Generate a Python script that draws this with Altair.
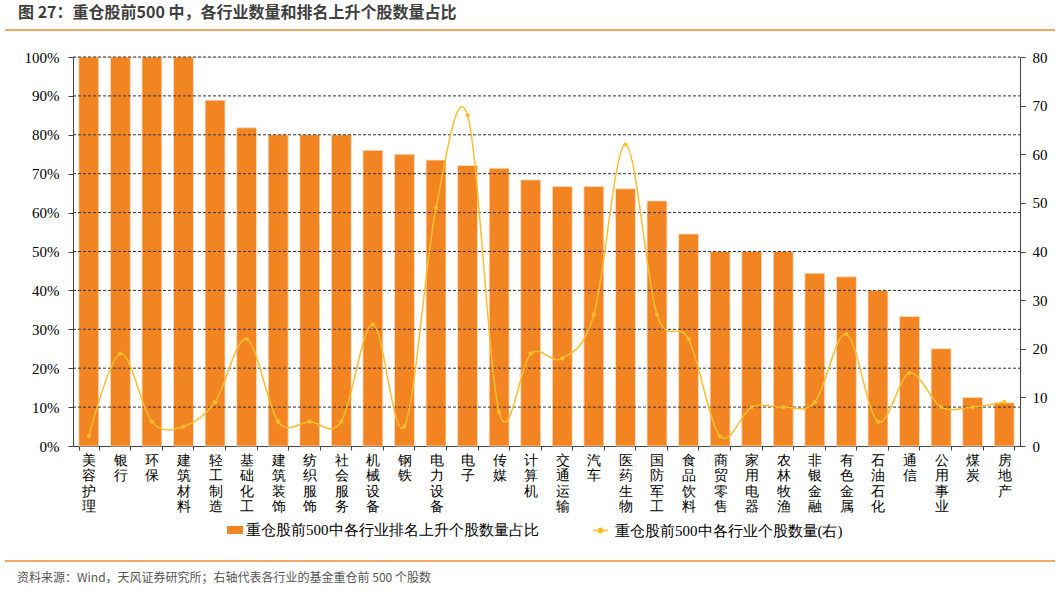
import altair as alt
import pandas as pd

categories = ["美容护理", "银行", "环保", "建筑材料", "轻工制造", "基础化工", "建筑装饰", "纺织服饰",
              "社会服务", "机械设备", "钢铁", "电力设备", "电子", "传媒", "计算机", "交通运输", "汽车",
              "医药生物", "国防军工", "食品饮料", "商贸零售", "家用电器", "农林牧渔", "非银金融",
              "有色金属", "石油石化", "通信", "公用事业", "煤炭", "房地产"]
pct_values = [100, 100, 100, 100, 88.9, 81.8, 80, 80, 80, 76, 75, 73.5, 72.1, 71.4, 68.4, 66.7, 66.7,
              66.1, 63.0, 54.5, 50, 50, 50, 44.4, 43.5, 40, 33.3, 25, 12.5, 11.1]
count_values = [2, 19, 5, 4, 9, 22, 5, 5, 5, 25, 4, 49, 68, 7, 19, 18, 27, 62, 27, 22, 2, 8, 8, 9,
                23, 5, 15, 8, 8, 9]
left_ticks = [0, 0.1, 0.2, 0.3, 0.4, 0.5, 0.6, 0.7, 0.8, 0.9, 1.0]
right_ticks = [0, 10, 20, 30, 40, 50, 60, 70, 80]

bar_label = "重仓股前500中各行业排名上升个股数量占比"
line_label = "重仓股前500中各行业个股数量(右)"
title_text = "图 27：重仓股前500 中，各行业数量和排名上升个股数量占比"
source_text = "资料来源：Wind，天风证券研究所；右轴代表各行业的基金重仓前 500 个股数"

df = pd.DataFrame({
    "cat": categories,
    "pct": [v / 100 for v in pct_values],
    "cnt": count_values,
    "s1": bar_label,
    "s2": line_label,
})
grid_df = pd.DataFrame({"g": left_ticks[1:]})

W, H = 947, 389
BAR = "#F28422"
LINE = "#FDBE2E"
ORANGE = "#F08A30"
SERIF = "Liberation Serif"
SANS = "Noto Sans CJK SC"
AX = "#444444"

x_enc = alt.X(
    "cat:N", sort=categories, title=None,
    scale=alt.Scale(paddingInner=0.37, paddingOuter=0.185),
    axis=alt.Axis(labelAngle=0, labelExpr="split(datum.label, '')", labelBaseline="top",
                  labelAlign="center", labelFontSize=14, labelLineHeight=15.5, labelFont=SERIF,
                  labelColor="#000000", tickBand="extent", tickSize=4, labelPadding=3,
                  domainColor=AX, tickColor=AX, grid=False),
)

left_axis = alt.Axis(values=left_ticks, format=".0%", grid=False, tickSize=5, labelPadding=9,
                     labelFont=SERIF, labelFontSize=15, labelColor="#000000",
                     domainColor=AX, tickColor=AX)

bars = alt.Chart(df).mark_bar(stroke="#FBE0C8", strokeWidth=0.8).encode(
    x=x_enc,
    y=alt.Y("pct:Q", title=None, scale=alt.Scale(domain=[0, 1]), axis=left_axis),
    color=alt.Color("s1:N", scale=alt.Scale(domain=[bar_label], range=[BAR]),
                    legend=alt.Legend(orient="none", legendX=154, legendY=465, title=None,
                                      symbolType="M-1,-0.5H1V0.5H-1Z", symbolSize=256,
                                      labelFont=SERIF, labelFontSize=15, labelColor="#000000",
                                      labelLimit=500, labelOffset=3, symbolStrokeWidth=0)),
)

grid = alt.Chart(grid_df).mark_rule(color="#333333", strokeWidth=1, strokeDash=[3, 2]).encode(
    x=alt.value(0), x2=alt.value(W),
    y=alt.Y("g:Q", scale=alt.Scale(domain=[0, 1]), title=None, axis=None),
)

right_y = alt.Y("cnt:Q", title=None, scale=alt.Scale(domain=[0, 80]),
                axis=alt.Axis(orient="right", values=right_ticks, grid=False, tickSize=5,
                              labelPadding=7, labelFont=SERIF, labelFontSize=15,
                              labelColor="#000000", domainColor=AX, tickColor=AX))

line = alt.Chart(df).mark_line(interpolate="cardinal", strokeWidth=1.5).encode(
    x=alt.X("cat:N", sort=categories),
    y=right_y,
    stroke=alt.Stroke("s2:N", scale=alt.Scale(domain=[line_label], range=[LINE]),
                      legend=alt.Legend(orient="none", legendX=519, legendY=465, title=None,
                                        symbolType="M-1,0H1M-0.3,0A0.3,0.3 0 1,0 0.3,0A0.3,0.3 0 1,0 -0.3,0",
                                        symbolSize=225, symbolFillColor=LINE, symbolStrokeWidth=1.5,
                                        labelFont=SERIF, labelFontSize=15, labelColor="#000000",
                                        labelLimit=500, labelOffset=6)),
)

points = alt.Chart(df).mark_point(filled=True, size=18, color=LINE, opacity=1).encode(
    x=alt.X("cat:N", sort=categories),
    y=alt.Y("cnt:Q"),
)

deco = pd.DataFrame({"t": [title_text]})
title_mark = alt.Chart(deco).mark_text(font=SANS, fontSize=16, fontWeight="bold", color="#3F3F3F",
                                       align="left", baseline="middle").encode(
    text="t:N", x=alt.value(-55), y=alt.value(-44))
src_mark = alt.Chart(pd.DataFrame({"t": [source_text]})).mark_text(
    font=SANS, fontSize=12, color="#555555", align="left", baseline="middle").encode(
    text="t:N", x=alt.value(-56), y=alt.value(521))
top_rule = alt.Chart(deco).mark_rule(color=ORANGE, strokeWidth=1.5).encode(
    x=alt.value(-68), x2=alt.value(982), y=alt.value(-27))
bot_rule = alt.Chart(deco).mark_rule(color=ORANGE, strokeWidth=1.5).encode(
    x=alt.value(-68), x2=alt.value(982), y=alt.value(504))

chart = alt.layer(
    bars,
    grid,
    alt.layer(line, points),
    title_mark, src_mark, top_rule, bot_rule,
).resolve_scale(y="independent", color="independent").properties(
    width=W, height=H,
    autosize=alt.AutoSizeParams(type="none"),
    padding={"left": 73, "top": 57, "right": 41, "bottom": 145},
).configure_view(stroke=None).configure(background="white")

chart.save("out.html", embed_options={"renderer": "svg", "actions": False})
